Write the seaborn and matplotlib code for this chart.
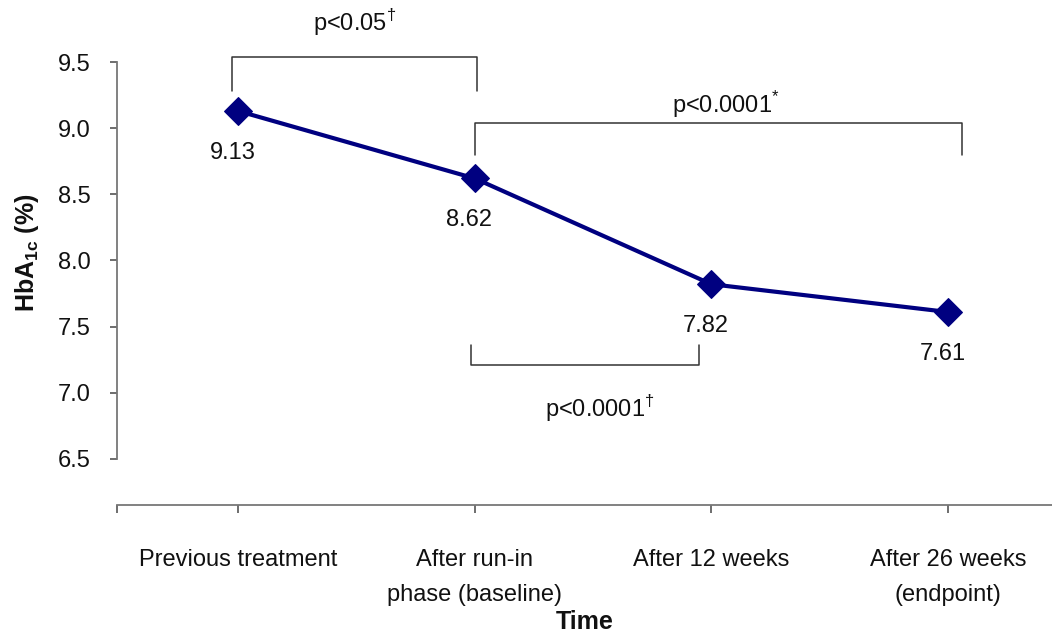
import pandas as pd
import seaborn as sns
from matplotlib import pyplot as plt

# HbA1c at each time point
times = ['Previous treatment', 'After run-in\nphase (baseline)', 'After 12 weeks', 'After 26 weeks\n(endpoint)']
hba1c = [9.13, 8.62, 7.82, 7.61]
value_labels = ['9.13', '8.62', '7.82', '7.61']

# significance brackets: (x start, x end, bar y, leg end y, label, label x, label y)
brackets = [
    (-0.025, 1.01, 9.54, 9.28, 'p<0.05$^{\\dagger}$', 0.49, 9.80),
    (1.0, 3.06, 9.04, 8.80, 'p<0.0001$^{*}$', 2.06, 9.18),
    (0.985, 1.947, 7.21, 7.36, 'p<0.0001$^{\\dagger}$', 1.53, 6.88),
]

df = pd.DataFrame({'time': times, 'hba1c': hba1c})

sns.set_style('white')
plt.rcParams['font.family'] = ['Liberation Sans', 'DejaVu Sans']
plt.rcParams['mathtext.fontset'] = 'custom'
plt.rcParams['mathtext.rm'] = 'Liberation Sans'
plt.rcParams['mathtext.bf'] = 'Liberation Sans:bold'

fig = plt.figure(figsize=(10.52, 6.33), dpi=100)
ax = fig.add_axes([117 / 1052, 128 / 633, 935 / 1052, 505 / 633])

sns.lineplot(data=df, x='time', y='hba1c', marker='D', markersize=14, color='#000080',
             linewidth=3, markeredgecolor='#000080', ax=ax)

for x, y, lab in zip(range(len(hba1c)), hba1c, value_labels):
    ax.annotate(lab, (x, y), xytext=(-4, -30), textcoords='offset points',
                ha='center', va='center', fontsize=17, color='#111111')

for x0, x1, yb, yl, lab, tx, ty in brackets:
    ax.plot([x0, x0, x1, x1], [yl, yb, yb, yl], color='#333333', lw=1.1)
    ax.text(tx, ty, lab, ha='center', va='center', fontsize=17, color='#111111')

x_left = -0.513
ax.set_xlim(x_left, 3.44)
ax.set_ylim(6.15, 9.97)
ax.set_yticks([6.5, 7.0, 7.5, 8.0, 8.5, 9.0, 9.5])
ax.set_yticklabels(['6.5', '7.0', '7.5', '8.0', '8.5', '9.0', '9.5'])
ax.set_xticks([x_left, 0, 1, 2, 3])
ax.set_xticklabels([''] + times)
for t in ax.get_xticklabels():
    t.set_linespacing(1.75)

for s in ['top', 'right']:
    ax.spines[s].set_visible(False)
ax.spines['left'].set_bounds(6.5, 9.5)
ax.spines['left'].set_color('#777777')
ax.spines['bottom'].set_color('#777777')
ax.spines['left'].set_linewidth(1.3)
ax.spines['bottom'].set_linewidth(1.3)

ax.tick_params(axis='y', direction='out', length=5, width=1.2, color='#555555',
               pad=14, labelsize=17, labelcolor='#111111', left=True)
ax.tick_params(axis='x', direction='out', length=6, width=1.2, color='#555555',
               pad=26, labelsize=17, labelcolor='#111111', bottom=True)

ax.set_xlabel('Time', fontsize=18, fontweight='bold', labelpad=3, color='#111111')
ax.set_ylabel('HbA$_{\\mathbf{1c}}$ (%)', fontsize=18, fontweight='bold', labelpad=12, color='#111111')

fig.savefig('out.png', dpi=100)
